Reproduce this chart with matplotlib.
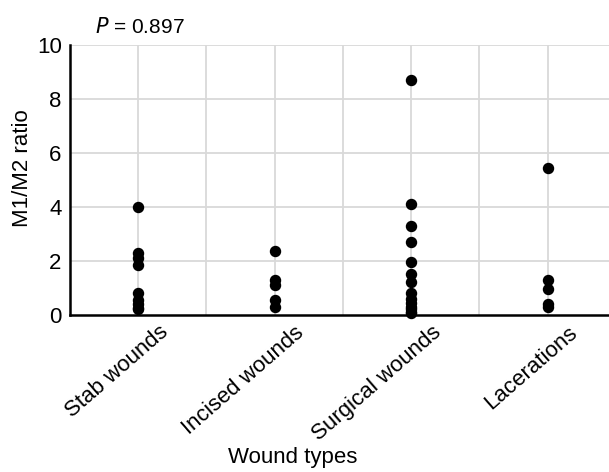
import matplotlib.pyplot as plt
from matplotlib.transforms import ScaledTranslation

plt.rcParams['font.family'] = ['Liberation Sans', 'DejaVu Sans']

categories = ['Stab wounds', 'Incised wounds', 'Surgical wounds', 'Lacerations']
stab = [4.0, 2.3, 2.1, 1.85, 0.8, 0.55, 0.4, 0.25, 0.2]
incised = [2.35, 1.3, 1.1, 0.55, 0.3]
surgical = [8.7, 4.1, 3.3, 2.7, 1.95, 1.5, 1.2, 0.8, 0.6, 0.45, 0.3, 0.2, 0.1, 0.05]
lacerations = [5.45, 1.3, 0.95, 0.4, 0.3]
groups = [stab, incised, surgical, lacerations]

fig = plt.figure(figsize=(6.09, 4.72), dpi=100)
ax = fig.add_axes([0.115, 0.333, 0.885, 0.572])

grid_color = '#d9d9d9'
# vertical lines through each category and between them
for i in range(len(categories)):
    ax.axvline(i, color=grid_color, lw=1.3, zorder=0)
    if i > 0:
        ax.axvline(i - 0.5, color=grid_color, lw=1.3, zorder=0)
for y in [2, 4, 6, 8, 10]:
    ax.axhline(y, color=grid_color, lw=1.3, zorder=0)

for i, vals in enumerate(groups):
    ax.scatter([i] * len(vals), vals, s=52, color='black', zorder=3, clip_on=False)

ax.set_xlim(-0.5, 3.45)
ax.set_ylim(0, 10)
ax.set_yticks([0, 2, 4, 6, 8, 10])
ax.set_xticks(range(len(categories)))
ax.set_xticklabels(categories, rotation=41, ha='right', va='top', rotation_mode='anchor')
ax.tick_params(axis='both', length=0, labelsize=16, pad=6)
ax.tick_params(axis='x', pad=0)

# shift the slanted labels so they end to the right of each category
shift = ScaledTranslation(0.20, -0.07, fig.dpi_scale_trans)
for lbl in ax.get_xticklabels():
    lbl.set_transform(lbl.get_transform() + shift)

for pos in ['top', 'right']:
    ax.spines[pos].set_visible(False)
ax.spines['left'].set_linewidth(1.8)
ax.spines['bottom'].set_linewidth(1.8)

ax.set_ylabel('M1/M2 ratio', fontsize=16)
ax.yaxis.set_label_coords(-0.069, 0.544)
fig.text(0.481, 0.03, 'Wound types', fontsize=16, ha='center', va='center')
ax.text(0.047, 1.03, '$\\it{P}$ = 0.897', transform=ax.transAxes, fontsize=15,
        ha='left', va='bottom')

plt.savefig('out.png', dpi=100)
